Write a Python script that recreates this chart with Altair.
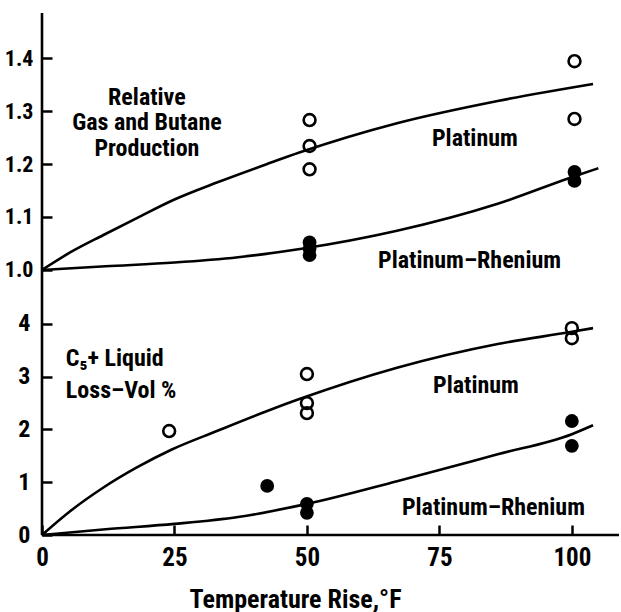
import altair as alt
import pandas as pd

# ---------------- data ----------------
# Upper panel: relative gas and butane production
top_pt_curve_x = [0, 5.3, 11.6, 17.9, 25, 33, 42.5, 48.7, 67, 86, 104]
top_pt_curve_y = [1.0, 1.033, 1.066, 1.098, 1.133, 1.165, 1.2, 1.222, 1.277, 1.319, 1.351]
top_re_curve_x = [0, 12, 25, 37, 49, 67, 86, 100.5, 105]
top_re_curve_y = [1.0, 1.007, 1.014, 1.024, 1.04, 1.074, 1.125, 1.177, 1.192]
top_pt_pts_x = [50.5, 50.5, 50.5, 100.5, 100.5]
top_pt_pts_y = [1.283, 1.234, 1.19, 1.394, 1.285]
top_re_pts_x = [50.5, 50.5, 50.5, 100.5, 100.5]
top_re_pts_y = [1.052, 1.04, 1.028, 1.185, 1.168]

# Lower panel: C5+ liquid loss, vol %
bot_pt_curve_x = [0, 5.3, 11.6, 17.9, 24.5, 33, 42.5, 48.7, 67, 86, 100, 104]
bot_pt_curve_y = [0, 0.45, 0.9, 1.28, 1.62, 1.97, 2.35, 2.58, 3.17, 3.62, 3.85, 3.92]
bot_re_curve_x = [0, 12, 25, 37, 50, 67, 86, 100, 104]
bot_re_curve_y = [0, 0.11, 0.21, 0.34, 0.59, 1.02, 1.53, 1.91, 2.08]
bot_pt_pts_x = [24, 50, 50, 50, 100, 100]
bot_pt_pts_y = [1.97, 3.05, 2.5, 2.31, 3.92, 3.73]
bot_re_pts_x = [42.5, 50, 50, 100, 100]
bot_re_pts_y = [0.93, 0.59, 0.42, 2.16, 1.69]

x_ticks = [0, 25, 50, 75, 100]
top_y_ticks = [1.0, 1.1, 1.2, 1.3, 1.4]
bot_y_ticks = [0, 1, 2, 3, 4]

top_notes = ["Relative", "Gas and Butane", "Production", "Platinum", "Platinum\u2013Rhenium"]
top_notes_x = [19.8, 19.8, 19.8, 81.7, 80.7]
top_notes_y = [1.325, 1.277, 1.228, 1.247, 1.017]
bot_notes = ["C\u2085+ Liquid", "Loss\u2013Vol %", "Platinum", "Platinum\u2013Rhenium"]
bot_notes_x = [4.5, 4.5, 81.9, 85.2]
bot_notes_y = [3.34, 2.73, 2.82, 0.51]
bot_notes_align = ["left", "left", "center", "center"]

# ---------------- styling ----------------
FONT = "Roboto Condensed, Roboto, sans-serif"
W = 577
H_TOP = 284
H_BOT = 238
X_DOMAIN = [0, 108.9]

xscale = alt.Scale(domain=X_DOMAIN, nice=False, zero=False)
top_yscale = alt.Scale(domain=[0.949, 1.485], nice=False, zero=False)
bot_yscale = alt.Scale(domain=[0, 4.51], nice=False, zero=False)

common_axis = dict(offset=-10, domain=False, tickSize=10, tickWidth=2.5,
                   tickColor="black", grid=False, labelFont=FONT, labelColor="black",
                   labelFontWeight="bold", labelFlush=False, labelOverlap=False)

top_yaxis = alt.Axis(values=top_y_ticks, format=".1f", labelFontSize=22,
                     labelPadding=9, title=None, **common_axis)
bot_yaxis = alt.Axis(values=bot_y_ticks, format="d", labelFontSize=24,
                     labelPadding=12, title=None, **common_axis)
bot_xaxis = alt.Axis(values=x_ticks, format="d", labelFontSize=25, labelPadding=10,
                     title="Temperature Rise,\u00b0F", titleFont=FONT,
                     titleFontSize=26, titleFontWeight="bold", titleColor="black",
                     titleX=253, titleY=82, titleBaseline="alphabetic",
                     titleAlign="center", titleAnchor="start", **common_axis)


def panel(curves, open_pts, filled_pts, yscale, yaxis, xaxis):
    def X():
        return alt.X("x:Q", scale=xscale, axis=xaxis)

    def Y():
        return alt.Y("y:Q", scale=yscale, axis=yaxis)

    lines = alt.Chart(curves).mark_line(
        color="black", strokeWidth=2.6, interpolate="monotone"
    ).encode(x=X(), y=Y(), detail="series:N")
    opens = alt.Chart(open_pts).mark_point(
        shape="circle", filled=False, color="black", strokeWidth=2.6, size=140, opacity=1
    ).encode(x=X(), y=Y())
    fills = alt.Chart(filled_pts).mark_circle(
        color="black", size=190, opacity=1
    ).encode(x=X(), y=Y())
    vline = alt.Chart(pd.DataFrame({"x": [0]})).mark_rule(
        color="black", strokeWidth=2.6
    ).encode(x=X())
    return [lines, opens, fills, vline]


TEXT_STYLE = dict(font=FONT, fontSize=24, fontWeight="bold", color="black", baseline="middle")

# ---- top panel ----
top_curves = pd.concat([
    pd.DataFrame({"x": top_pt_curve_x, "y": top_pt_curve_y, "series": "Platinum"}),
    pd.DataFrame({"x": top_re_curve_x, "y": top_re_curve_y, "series": "Platinum-Rhenium"}),
])
top_open = pd.DataFrame({"x": top_pt_pts_x, "y": top_pt_pts_y})
top_fill = pd.DataFrame({"x": top_re_pts_x, "y": top_re_pts_y})
top_notes_df = pd.DataFrame({"x": top_notes_x, "y": top_notes_y, "t": top_notes})

tl = panel(top_curves, top_open, top_fill, top_yscale, top_yaxis, None)
top_text = alt.Chart(top_notes_df).mark_text(align="center", **TEXT_STYLE).encode(
    x=alt.X("x:Q", scale=xscale, axis=None),
    y=alt.Y("y:Q", scale=top_yscale, axis=top_yaxis), text="t:N")
top_chart = alt.layer(*tl, top_text).properties(width=W, height=H_TOP)

# ---- bottom panel ----
bot_curves = pd.concat([
    pd.DataFrame({"x": bot_pt_curve_x, "y": bot_pt_curve_y, "series": "Platinum"}),
    pd.DataFrame({"x": bot_re_curve_x, "y": bot_re_curve_y, "series": "Platinum-Rhenium"}),
])
bot_open = pd.DataFrame({"x": bot_pt_pts_x, "y": bot_pt_pts_y})
bot_fill = pd.DataFrame({"x": bot_re_pts_x, "y": bot_re_pts_y})
bot_notes_df = pd.DataFrame({"x": bot_notes_x, "y": bot_notes_y, "t": bot_notes, "a": bot_notes_align})

bl = panel(bot_curves, bot_open, bot_fill, bot_yscale, bot_yaxis, bot_xaxis)
hline = alt.Chart(pd.DataFrame({"y": [0]})).mark_rule(color="black", strokeWidth=2.6).encode(
    y=alt.Y("y:Q", scale=bot_yscale, axis=bot_yaxis))
bot_text_left = alt.Chart(bot_notes_df[bot_notes_df["a"] == "left"]).mark_text(
    align="left", **TEXT_STYLE).encode(
    x=alt.X("x:Q", scale=xscale, axis=bot_xaxis),
    y=alt.Y("y:Q", scale=bot_yscale, axis=bot_yaxis), text="t:N")
bot_text_center = alt.Chart(bot_notes_df[bot_notes_df["a"] == "center"]).mark_text(
    align="center", **TEXT_STYLE).encode(
    x=alt.X("x:Q", scale=xscale, axis=bot_xaxis),
    y=alt.Y("y:Q", scale=bot_yscale, axis=bot_yaxis), text="t:N")
bot_chart = alt.layer(*bl, hline, bot_text_left, bot_text_center).properties(width=W, height=H_BOT)

chart = alt.vconcat(top_chart, bot_chart, spacing=0, bounds="flush").properties(
    padding={"left": 4, "top": 11, "right": 0, "bottom": 0},
    background="white",
).configure_view(stroke="transparent", strokeWidth=0)

chart.save("out.html", embed_options={"renderer": "svg", "actions": False})
